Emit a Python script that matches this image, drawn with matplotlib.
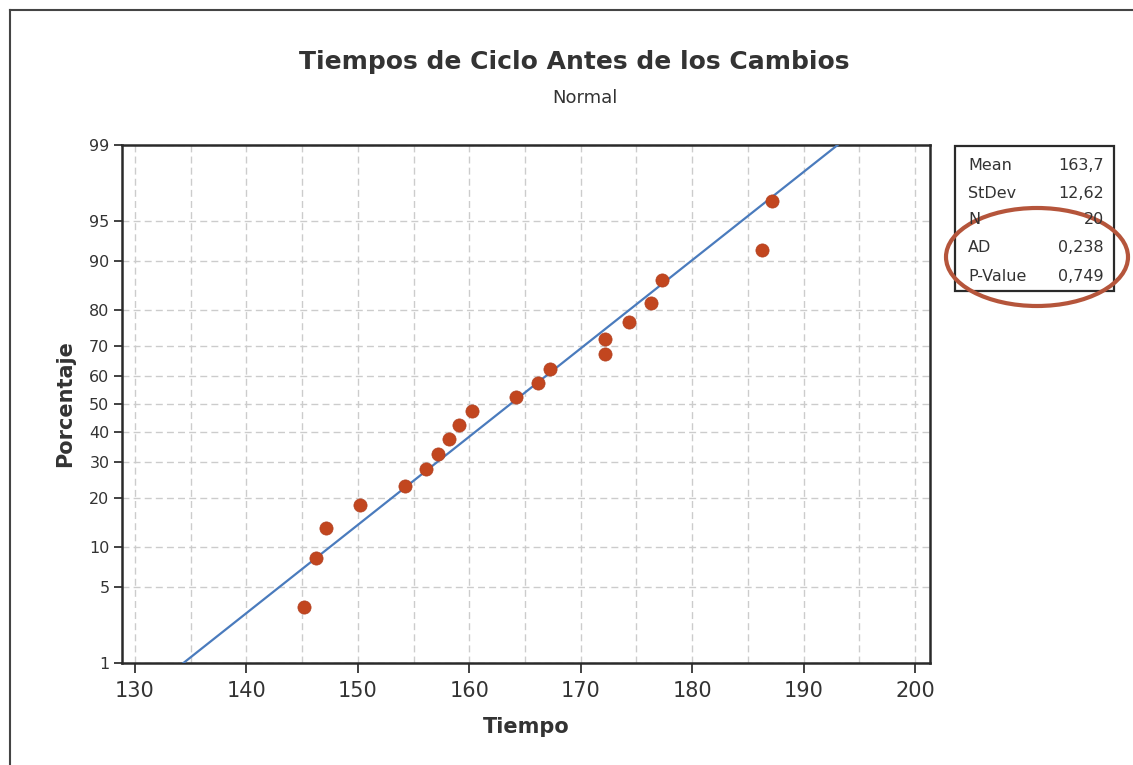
import numpy as np
import matplotlib
matplotlib.use('Agg')
import matplotlib.pyplot as plt
from matplotlib.ticker import FixedLocator, MultipleLocator, NullLocator
from matplotlib.patches import Rectangle, Ellipse
from matplotlib.lines import Line2D
from statistics import NormalDist

# ---------------- data ----------------
tiempo = [145.2, 146.2, 147.1, 150.2, 154.2, 156.1, 157.2, 158.2, 159.1, 160.2,
          164.2, 166.2, 167.2, 172.2, 172.2, 174.3, 176.3, 177.3, 186.3, 187.2]
porcentaje = [3.4, 8.3, 13.2, 18.1, 23.0, 27.9, 32.8, 37.7, 42.6, 47.5,
              52.5, 57.4, 62.3, 67.2, 72.1, 77.0, 81.9, 86.8, 91.7, 96.6]
fit_mean = 163.7
fit_sd = 12.62
y_ticks = [1, 5, 10, 20, 30, 40, 50, 60, 70, 80, 90, 95, 99]
x_ticks = [130, 140, 150, 160, 170, 180, 190, 200]
stat_names = ['Mean', 'StDev', 'N', 'AD', 'P-Value']
stat_values = ['163,7', '12,62', '20', '0,238', '0,749']
fit_pct = [1, 99]

title = 'Tiempos de Ciclo Antes de los Cambios'
subtitle = 'Normal'
xlabel = 'Tiempo'
ylabel = 'Porcentaje'

# ---------------- probability scale ----------------
_nd = NormalDist()
_vf = np.vectorize(lambda v: _nd.inv_cdf(v / 100.0), otypes=[float])
_vi = np.vectorize(lambda v: 100.0 * _nd.cdf(v), otypes=[float])


def prob_fwd(p):
    p = np.clip(np.asarray(p, dtype=float), 1e-9, 100 - 1e-9)
    return _vf(p)


def prob_inv(z):
    z = np.asarray(z, dtype=float)
    return _vi(z)


W, H = 1133, 765
fig = plt.figure(figsize=(W / 100, H / 100), dpi=100)
fig.patch.set_facecolor('white')

ax = fig.add_axes([122 / W, 1 - 663 / H, 808 / W, 518 / H])
ax.set_yscale('function', functions=(prob_fwd, prob_inv))
ax.set_ylim(1, 99)
ax.set_xlim(128.83, 201.35)

txt = '#333333'
grid_c = '#cccccc'

# grid
ax.xaxis.set_major_locator(FixedLocator(x_ticks))
ax.xaxis.set_minor_locator(MultipleLocator(5))
ax.yaxis.set_major_locator(FixedLocator(y_ticks))
ax.yaxis.set_minor_locator(NullLocator())
ax.set_yticklabels([str(t) for t in y_ticks])
ax.grid(which='both', axis='x', color=grid_c, linestyle=(0, (5, 3)), lw=1)
ax.grid(which='major', axis='y', color=grid_c, linestyle=(0, (5, 3)), lw=1)
ax.set_axisbelow(True)

ax.tick_params(axis='x', which='major', direction='out', length=7, width=1.3,
               color=txt, labelsize=15, labelcolor=txt, pad=6)
ax.tick_params(axis='x', which='minor', length=0)
ax.tick_params(axis='y', which='major', direction='out', length=6, width=1.3,
               color=txt, labelsize=11.5, labelcolor=txt, pad=3)

for s in ax.spines.values():
    s.set_linewidth(1.8)
    s.set_color('#2a2a2a')

# fitted line
fit_x = [NormalDist(fit_mean, fit_sd).inv_cdf(p / 100.0) for p in fit_pct]
ax.plot(fit_x, fit_pct, color='#4a7bbd', lw=1.6, zorder=3)

# points
ax.plot(tiempo, porcentaje, linestyle='none', marker='o', markersize=9.5,
        markerfacecolor='#c2461f', markeredgecolor='#b04020', markeredgewidth=0.5,
        zorder=4)

# labels
ax.set_xlabel(xlabel, fontsize=15, fontweight='bold', color=txt)
ax.xaxis.set_label_coords(0.5, -0.105)
ax.set_ylabel(ylabel, fontsize=15, fontweight='bold', color=txt)
ax.yaxis.set_label_coords(-0.058, 0.5)

fig.text(574 / W, 1 - 62 / H, title, ha='center', va='center', fontsize=18,
         fontweight='bold', color=txt)
fig.text(585 / W, 1 - 98 / H, subtitle, ha='center', va='center', fontsize=13,
         color=txt)

# stats box
box = Rectangle((955 / W, 1 - 291 / H), 159 / W, 145 / H, transform=fig.transFigure,
                facecolor='white', edgecolor='#2a2a2a', lw=1.6)
fig.add_artist(box)
row_y = [165, 193, 220, 248, 276]
for name, val, yy in zip(stat_names, stat_values, row_y):
    fig.text(968 / W, 1 - yy / H, name, ha='left', va='center', fontsize=11.5, color=txt)
    fig.text(1104 / W, 1 - yy / H, val, ha='right', va='center', fontsize=11.5, color=txt)

ell = Ellipse((1037 / W, 1 - 257 / H), 182 / W, 98 / H, transform=fig.transFigure,
              facecolor='none', edgecolor='#b5553b', lw=3)
fig.add_artist(ell)

# page border lines (scan frame)
fig.add_artist(Line2D([10 / W, 1.0], [1 - 10 / H, 1 - 10 / H], transform=fig.transFigure,
                      color='#444444', lw=1.5))
fig.add_artist(Line2D([10 / W, 10 / W], [1 - 10 / H, 0.0], transform=fig.transFigure,
                      color='#444444', lw=1.5))

fig.savefig('out.png', dpi=100, facecolor=fig.get_facecolor())
